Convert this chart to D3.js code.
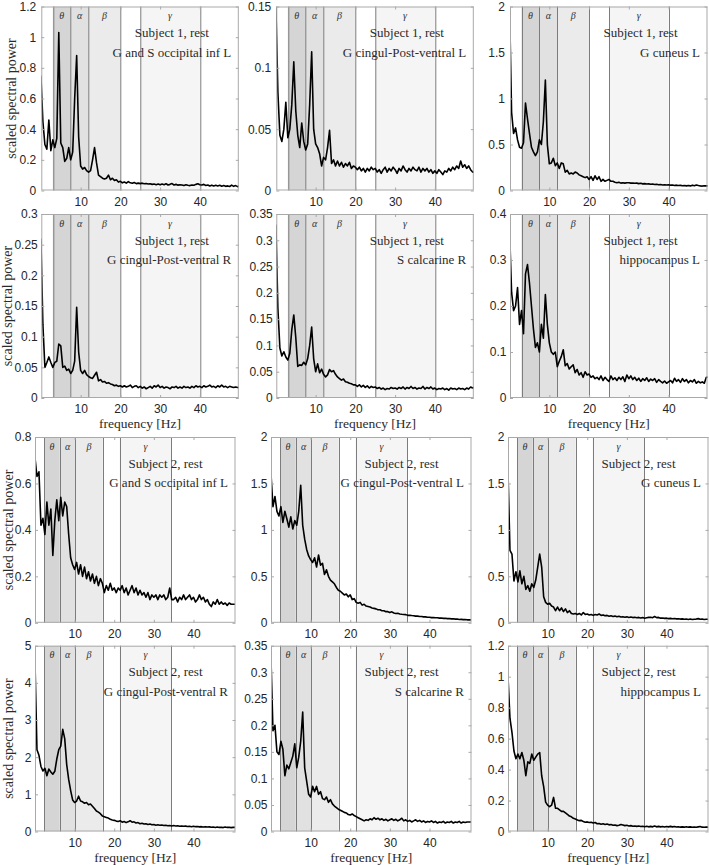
<!DOCTYPE html>
<html>
<head>
<meta charset="utf-8">
<script src="https://cdn.jsdelivr.net/npm/d3@7/dist/d3.min.js"></script>
<style>
  body { margin: 0; background: #fff; }
  svg { display: block; }
</style>
</head>
<body>
<svg id="chart" width="709" height="865"></svg>
<script>
// frequency grid of the spectra, 0.5 Hz steps
let freqs = d3.range(102).map(i => i * 0.5);

// band edges: theta start, theta/alpha, alpha/beta, beta end, gamma start, gamma end
let bands1 = [3, 7.5, 12, 20, 25, 40];
let bands2 = [2.3, 6.25, 10.2, 17.1, 21.35, 34.4];
let bandNames = ["θ", "α", "β", "γ"];

let xTicks = [10, 20, 30, 40];
let ticks12 = [0, 0.2, 0.4, 0.6, 0.8, 1, 1.2];
let ticks015 = [0, 0.05, 0.1, 0.15];
let ticks2 = [0, 0.5, 1, 1.5, 2];
let ticks03 = [0, 0.05, 0.1, 0.15, 0.2, 0.25, 0.3];
let ticks035 = [0, 0.05, 0.1, 0.15, 0.2, 0.25, 0.3, 0.35];
let ticks04 = [0, 0.1, 0.2, 0.3, 0.4];
let ticks08 = [0, 0.2, 0.4, 0.6, 0.8];
let ticks5 = [0, 1, 2, 3, 4, 5];

let regions = ["G and S occipital inf L", "G cingul-Post-ventral L", "G cuneus L",
               "G cingul-Post-ventral R", "S calcarine R", "hippocampus L"];

// Subject 1
let s1OccL = [
  0.75,0.45,0.30,0.27,0.46,0.26,0.33,0.28,0.34,1.03,
  0.31,0.28,0.19,0.21,0.28,0.20,0.25,0.60,0.88,0.35,
  0.16,0.14,0.15,0.13,0.12,0.13,0.20,0.28,0.18,0.10,
  0.09,0.08,0.075,0.08,0.10,0.07,0.08,0.065,0.07,0.055,
  0.06,0.05,0.055,0.048,0.058,0.05,0.047,0.052,0.045,0.048,
  0.045,0.048,0.044,0.046,0.042,0.044,0.04,0.042,0.038,0.042,
  0.037,0.042,0.038,0.044,0.036,0.04,0.045,0.036,0.04,0.035,
  0.038,0.036,0.032,0.037,0.034,0.032,0.036,0.034,0.04,0.044,
  0.038,0.036,0.04,0.033,0.036,0.03,0.035,0.03,0.034,0.03,
  0.034,0.028,0.032,0.027,0.03,0.026,0.035,0.027,0.032,0.025,
  0.03,0.03];
let s1CingL = [
  0.15,0.08,0.045,0.04,0.05,0.072,0.043,0.05,0.07,0.105,
  0.065,0.045,0.035,0.055,0.04,0.033,0.038,0.07,0.113,0.05,
  0.038,0.035,0.03,0.02,0.027,0.025,0.035,0.049,0.022,0.025,
  0.02,0.024,0.02,0.023,0.019,0.022,0.02,0.023,0.018,0.02,
  0.019,0.017,0.019,0.016,0.018,0.015,0.018,0.016,0.019,0.017,
  0.018,0.015,0.017,0.014,0.017,0.019,0.015,0.018,0.016,0.019,
  0.017,0.014,0.018,0.016,0.02,0.017,0.015,0.018,0.016,0.019,
  0.017,0.016,0.019,0.015,0.018,0.016,0.018,0.015,0.017,0.014,
  0.016,0.014,0.017,0.015,0.013,0.016,0.015,0.018,0.016,0.019,
  0.017,0.02,0.018,0.024,0.019,0.021,0.018,0.02,0.017,0.015,
  0.015,0.015];
let s1CuneusL = [
  1.97,0.85,0.62,0.68,0.55,0.47,0.46,0.52,0.95,0.78,
  0.62,0.47,0.42,0.38,0.42,0.55,0.5,0.75,1.2,0.5,
  0.29,0.3,0.35,0.27,0.3,0.24,0.3,0.29,0.2,0.22,
  0.18,0.19,0.18,0.2,0.19,0.17,0.16,0.15,0.14,0.15,
  0.12,0.15,0.11,0.16,0.12,0.15,0.1,0.12,0.1,0.11,
  0.12,0.1,0.1,0.09,0.085,0.09,0.08,0.085,0.08,0.085,
  0.085,0.08,0.082,0.078,0.08,0.075,0.078,0.072,0.075,0.07,
  0.072,0.068,0.07,0.065,0.068,0.062,0.065,0.06,0.063,0.06,
  0.062,0.058,0.06,0.055,0.058,0.054,0.056,0.052,0.055,0.05,
  0.054,0.05,0.058,0.052,0.06,0.054,0.05,0.048,0.052,0.05,
  0.05,0.05];
let s1CingR = [
  0.26,0.12,0.05,0.058,0.067,0.058,0.05,0.058,0.06,0.088,
  0.085,0.05,0.052,0.045,0.047,0.04,0.045,0.06,0.148,0.075,
  0.045,0.04,0.045,0.038,0.035,0.033,0.032,0.037,0.042,0.028,
  0.03,0.026,0.027,0.024,0.025,0.023,0.022,0.02,0.021,0.019,
  0.02,0.018,0.02,0.018,0.019,0.021,0.017,0.019,0.02,0.017,
  0.019,0.016,0.018,0.015,0.017,0.019,0.016,0.02,0.018,0.021,
  0.017,0.019,0.016,0.018,0.017,0.015,0.018,0.017,0.019,0.016,
  0.018,0.016,0.019,0.017,0.018,0.016,0.019,0.017,0.02,0.018,
  0.019,0.017,0.02,0.018,0.019,0.021,0.018,0.019,0.017,0.02,
  0.018,0.021,0.018,0.019,0.017,0.019,0.018,0.017,0.018,0.017,
  0.017,0.017];
let s1CalcR = [
  0.33,0.17,0.095,0.08,0.088,0.078,0.072,0.085,0.13,0.158,
  0.115,0.06,0.063,0.062,0.068,0.063,0.075,0.1,0.135,0.075,
  0.05,0.065,0.048,0.055,0.045,0.04,0.044,0.054,0.05,0.052,
  0.045,0.04,0.037,0.034,0.036,0.031,0.03,0.028,0.027,0.025,
  0.025,0.022,0.025,0.021,0.024,0.02,0.023,0.019,0.022,0.02,
  0.021,0.018,0.02,0.017,0.019,0.016,0.018,0.017,0.02,0.018,
  0.019,0.017,0.02,0.018,0.021,0.017,0.02,0.018,0.022,0.018,
  0.02,0.017,0.019,0.018,0.022,0.017,0.02,0.018,0.021,0.017,
  0.019,0.016,0.018,0.017,0.019,0.016,0.018,0.015,0.019,0.017,
  0.018,0.016,0.019,0.017,0.018,0.016,0.019,0.017,0.021,0.019,
  0.02,0.02];
let s1HippL = [
  0.36,0.23,0.19,0.2,0.24,0.16,0.19,0.14,0.27,0.29,
  0.25,0.2,0.15,0.11,0.12,0.1,0.16,0.13,0.225,0.16,
  0.12,0.1,0.095,0.1,0.068,0.08,0.09,0.105,0.07,0.075,
  0.063,0.068,0.072,0.055,0.062,0.05,0.055,0.045,0.057,0.05,
  0.052,0.045,0.048,0.042,0.045,0.04,0.048,0.038,0.045,0.04,
  0.036,0.048,0.04,0.044,0.038,0.045,0.04,0.046,0.036,0.05,
  0.042,0.048,0.04,0.045,0.038,0.043,0.036,0.042,0.038,0.044,
  0.036,0.041,0.038,0.042,0.034,0.04,0.036,0.033,0.037,0.032,
  0.035,0.038,0.033,0.043,0.036,0.04,0.034,0.042,0.036,0.04,
  0.033,0.038,0.035,0.04,0.032,0.036,0.033,0.035,0.032,0.045,
  0.045,0.045];

// Subject 2
let s2OccL = [
  0.71,0.63,0.65,0.42,0.45,0.38,0.52,0.42,0.49,0.29,
  0.44,0.53,0.44,0.54,0.46,0.52,0.5,0.38,0.28,0.25,
  0.23,0.26,0.21,0.25,0.2,0.24,0.19,0.22,0.18,0.21,
  0.17,0.2,0.16,0.19,0.17,0.13,0.16,0.14,0.17,0.14,
  0.15,0.13,0.15,0.14,0.16,0.13,0.15,0.12,0.14,0.16,
  0.13,0.15,0.12,0.14,0.12,0.13,0.11,0.13,0.1,0.12,
  0.11,0.12,0.1,0.12,0.11,0.12,0.1,0.11,0.15,0.1,
  0.1,0.11,0.09,0.11,0.1,0.12,0.1,0.11,0.12,0.1,
  0.11,0.09,0.1,0.12,0.1,0.11,0.09,0.1,0.08,0.07,
  0.09,0.08,0.1,0.08,0.09,0.08,0.085,0.075,0.085,0.08,
  0.08,0.08];
let s2CingL = [
  1.6,1.25,1.36,1.2,1.15,1.25,1.08,1.2,1.12,1.03,
  1.14,1.01,1.1,1.05,1.2,1.48,1.05,0.9,0.79,0.72,
  0.68,0.65,0.7,0.6,0.73,0.62,0.64,0.52,0.57,0.5,
  0.46,0.44,0.42,0.38,0.35,0.34,0.32,0.3,0.31,0.28,
  0.3,0.25,0.26,0.22,0.21,0.22,0.19,0.2,0.18,0.175,
  0.17,0.16,0.155,0.15,0.14,0.14,0.13,0.13,0.12,0.12,
  0.11,0.118,0.105,0.1,0.102,0.095,0.092,0.09,0.088,0.08,
  0.082,0.078,0.076,0.072,0.072,0.068,0.068,0.064,0.064,0.06,
  0.06,0.056,0.057,0.054,0.054,0.05,0.052,0.048,0.049,0.045,
  0.046,0.042,0.043,0.04,0.04,0.036,0.037,0.034,0.035,0.032,
  0.032,0.032];
let s2CuneusL = [
  1.63,0.78,0.74,0.45,0.55,0.44,0.56,0.42,0.5,0.36,
  0.4,0.34,0.42,0.38,0.46,0.6,0.74,0.6,0.28,0.22,
  0.2,0.21,0.18,0.17,0.13,0.17,0.13,0.16,0.12,0.15,
  0.11,0.13,0.1,0.095,0.1,0.09,0.1,0.085,0.11,0.09,
  0.095,0.085,0.09,0.08,0.09,0.085,0.095,0.08,0.085,0.075,
  0.08,0.07,0.075,0.068,0.072,0.065,0.07,0.062,0.066,0.06,
  0.064,0.058,0.062,0.056,0.06,0.055,0.058,0.052,0.056,0.05,
  0.055,0.058,0.06,0.055,0.068,0.056,0.058,0.05,0.052,0.048,
  0.05,0.045,0.048,0.044,0.046,0.042,0.044,0.04,0.042,0.038,
  0.04,0.036,0.04,0.035,0.038,0.04,0.045,0.038,0.04,0.036,
  0.038,0.038];
let s2CingR = [
  4.55,2.2,2.05,1.75,1.63,1.7,1.5,1.68,1.6,1.54,
  1.62,1.95,2.2,2.3,2.75,2.5,1.8,1.4,1.1,0.85,
  0.78,0.82,0.95,0.82,0.8,0.76,0.78,0.72,0.74,0.68,
  0.62,0.55,0.52,0.48,0.42,0.4,0.38,0.36,0.33,0.31,
  0.3,0.28,0.27,0.29,0.25,0.27,0.24,0.26,0.29,0.25,
  0.26,0.23,0.24,0.21,0.22,0.2,0.21,0.19,0.2,0.18,
  0.19,0.17,0.18,0.17,0.175,0.16,0.17,0.155,0.16,0.15,
  0.16,0.15,0.155,0.14,0.15,0.14,0.145,0.135,0.14,0.13,
  0.14,0.13,0.135,0.125,0.13,0.12,0.13,0.12,0.125,0.115,
  0.12,0.11,0.12,0.11,0.115,0.105,0.12,0.11,0.115,0.105,
  0.11,0.11];
let s2CalcR = [
  0.325,0.19,0.2,0.15,0.145,0.17,0.155,0.105,0.125,0.118,
  0.13,0.142,0.165,0.12,0.14,0.17,0.225,0.12,0.095,0.07,
  0.065,0.085,0.075,0.085,0.07,0.075,0.062,0.06,0.065,0.055,
  0.06,0.052,0.048,0.045,0.042,0.04,0.038,0.036,0.035,0.032,
  0.031,0.033,0.03,0.028,0.026,0.024,0.022,0.02,0.022,0.021,
  0.024,0.022,0.026,0.023,0.025,0.022,0.024,0.021,0.023,0.02,
  0.022,0.024,0.021,0.023,0.02,0.022,0.025,0.02,0.022,0.019,
  0.021,0.018,0.02,0.022,0.019,0.021,0.018,0.02,0.017,0.019,
  0.018,0.02,0.017,0.019,0.016,0.018,0.017,0.019,0.016,0.018,
  0.017,0.019,0.016,0.018,0.017,0.019,0.016,0.018,0.017,0.018,
  0.018,0.018];
let s2HippL = [
  1.0,0.73,0.64,0.52,0.47,0.5,0.47,0.51,0.46,0.36,
  0.45,0.44,0.5,0.46,0.48,0.5,0.51,0.36,0.29,0.19,
  0.17,0.16,0.17,0.22,0.15,0.15,0.14,0.13,0.13,0.12,
  0.11,0.1,0.095,0.085,0.08,0.075,0.07,0.072,0.065,0.06,
  0.062,0.058,0.06,0.055,0.058,0.05,0.052,0.047,0.05,0.045,
  0.048,0.043,0.045,0.04,0.042,0.038,0.04,0.045,0.042,0.038,
  0.04,0.036,0.038,0.034,0.036,0.033,0.035,0.032,0.034,0.031,
  0.034,0.03,0.033,0.03,0.035,0.03,0.033,0.03,0.032,0.029,
  0.032,0.03,0.033,0.03,0.032,0.029,0.031,0.028,0.03,0.028,
  0.031,0.028,0.03,0.027,0.029,0.027,0.03,0.032,0.028,0.027,
  0.028,0.028];

// the two figures (one per subject) have slightly different axes boxes
let figs = {
  1: {xs: [41.3, 276.3, 510], w: 197.5, ys: [6.5, 214], h: 184, dom: [0.1, 49.8],
      gap: [5, 3.5], ylabX: [11, 7], bands: bands1},
  2: {xs: [35, 271, 508], w: 200.5, ys: [437, 645.7], h: 185.8, dom: [0, 50.6],
      gap: [3.5, 3.5], ylabX: [8, 8], bands: bands2}
};

let panels = [
  {s: 1, row: 0, col: 0, data: s1OccL,    region: regions[0], ticks: ticks12},
  {s: 1, row: 0, col: 1, data: s1CingL,   region: regions[1], ticks: ticks015},
  {s: 1, row: 0, col: 2, data: s1CuneusL, region: regions[2], ticks: ticks2},
  {s: 1, row: 1, col: 0, data: s1CingR,   region: regions[3], ticks: ticks03},
  {s: 1, row: 1, col: 1, data: s1CalcR,   region: regions[4], ticks: ticks035},
  {s: 1, row: 1, col: 2, data: s1HippL,   region: regions[5], ticks: ticks04},
  {s: 2, row: 0, col: 0, data: s2OccL,    region: regions[0], ticks: ticks08},
  {s: 2, row: 0, col: 1, data: s2CingL,   region: regions[1], ticks: ticks2},
  {s: 2, row: 0, col: 2, data: s2CuneusL, region: regions[2], ticks: ticks2},
  {s: 2, row: 1, col: 0, data: s2CingR,   region: regions[3], ticks: ticks5},
  {s: 2, row: 1, col: 1, data: s2CalcR,   region: regions[4], ticks: ticks035},
  {s: 2, row: 1, col: 2, data: s2HippL,   region: regions[5], ticks: ticks12}
];

let svg = d3.select("#chart");
let defs = svg.append("defs");
let serif = "'Liberation Serif', 'Times New Roman', serif";
let sans = "'Liberation Sans', Arial, Helvetica, sans-serif";
let frameColor = "#a9a9a9";
let textColor = "#2b2b2b";
let shadeColors = ["#d5d5d5", "#e1e1e1", "#ebebeb", "#f5f5f5"];
let fmt = d3.format("~g");

panels.forEach((p, i) => {
  let F = figs[p.s];
  let x0 = F.xs[p.col], y0 = F.ys[p.row];
  let w = F.w, h = F.h;
  let b = F.bands;

  let x = d3.scaleLinear().domain(F.dom).range([0, w]);
  let y = d3.scaleLinear().domain([0, d3.max(p.ticks)]).range([h, 0]);

  let g = svg.append("g").attr("transform", `translate(${x0},${y0})`);

  // shaded frequency bands
  let spans = [[b[0], b[1]], [b[1], b[2]], [b[2], b[3]], [b[4], b[5]]];
  g.selectAll("rect.band")
    .data(spans)
    .join("rect")
    .attr("class", "band")
    .attr("x", d => x(d[0]))
    .attr("width", d => x(d[1]) - x(d[0]))
    .attr("y", 0)
    .attr("height", h)
    .attr("fill", (d, k) => shadeColors[k]);

  g.selectAll("line.edge")
    .data(b)
    .join("line")
    .attr("class", "edge")
    .attr("x1", d => Math.round(x(d)) + 0.5)
    .attr("x2", d => Math.round(x(d)) + 0.5)
    .attr("y1", 0)
    .attr("y2", h)
    .attr("stroke", "#7c7c7c")
    .attr("stroke-width", 1);

  // band names
  g.selectAll("text.greek")
    .data(spans)
    .join("text")
    .attr("class", "greek")
    .attr("x", d => x((d[0] + d[1]) / 2))
    .attr("y", 12.5)
    .attr("text-anchor", "middle")
    .attr("font-family", serif)
    .attr("font-style", "italic")
    .attr("font-size", 10)
    .attr("fill", "#333")
    .text((d, k) => bandNames[k]);

  // spectrum
  defs.append("clipPath").attr("id", "clip" + i)
    .append("rect").attr("width", w).attr("height", h);

  let line = d3.line()
    .x(d => x(d[0]))
    .y(d => y(d[1]));

  g.append("path")
    .datum(freqs.map((f, k) => [f, p.data[k]]))
    .attr("clip-path", `url(#clip${i})`)
    .attr("d", line)
    .attr("fill", "none")
    .attr("stroke", "#000")
    .attr("stroke-width", 1.6)
    .attr("stroke-linejoin", "round");

  // axes box and inward ticks
  let left = g.append("g")
    .call(d3.axisLeft(y).tickValues(p.ticks).tickSize(-3).tickPadding(F.gap[p.row]).tickFormat(fmt));
  let right = g.append("g").attr("transform", `translate(${w},0)`)
    .call(d3.axisRight(y).tickValues(p.ticks).tickSize(-3).tickFormat(""));
  let bottom = g.append("g").attr("transform", `translate(0,${h})`)
    .call(d3.axisBottom(x).tickValues(xTicks).tickSize(-3).tickPadding(6.5));
  let top = g.append("g")
    .call(d3.axisTop(x).tickValues(xTicks).tickSize(-3).tickFormat(""));

  [left, right, bottom, top].forEach(a => {
    a.select(".domain").remove();
    a.attr("font-family", sans).attr("font-size", 12);
    a.selectAll(".tick line").attr("stroke", frameColor);
    a.selectAll(".tick text").attr("fill", "#262626");
  });

  g.append("rect")
    .attr("x", 0.5).attr("y", 0.5)
    .attr("width", w - 1).attr("height", h - 1)
    .attr("fill", "none")
    .attr("stroke", frameColor)
    .attr("stroke-width", 1);

  // annotations
  g.append("text")
    .attr("x", 93.5)
    .attr("y", 30.5)
    .attr("font-family", serif)
    .attr("font-size", 13)
    .attr("fill", textColor)
    .text(`Subject ${p.s}, rest`);

  g.append("text")
    .attr("x", w - 7.5)
    .attr("y", 50)
    .attr("text-anchor", "end")
    .attr("font-family", serif)
    .attr("font-size", 13)
    .attr("fill", textColor)
    .text(p.region);

  if (p.col === 0) {
    svg.append("text")
      .attr("transform", `translate(${F.ylabX[p.row]},${y0 + h / 2}) rotate(-90)`)
      .attr("text-anchor", "middle")
      .attr("dominant-baseline", "central")
      .attr("font-family", serif)
      .attr("font-size", 14)
      .attr("fill", textColor)
      .text("scaled spectral power");
  }
  if (p.row === 1) {
    svg.append("text")
      .attr("x", x0 + w / 2)
      .attr("y", y0 + h + 25.5)
      .attr("text-anchor", "middle")
      .attr("dominant-baseline", "central")
      .attr("font-family", serif)
      .attr("font-size", 13.5)
      .attr("fill", textColor)
      .text("frequency [Hz]");
  }
});
</script>
</body>
</html>
